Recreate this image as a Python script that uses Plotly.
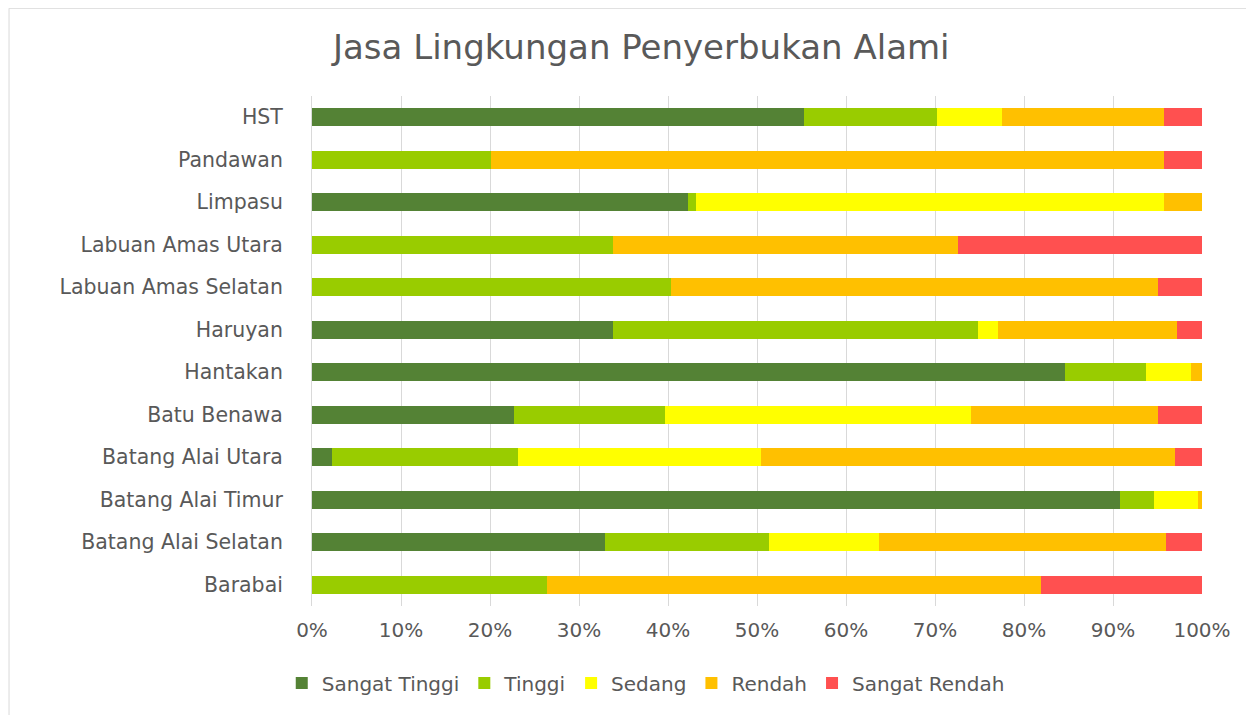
import plotly.graph_objects as go

categories = ["Barabai", "Batang Alai Selatan", "Batang Alai Timur", "Batang Alai Utara",
              "Batu Benawa", "Hantakan", "Haruyan", "Labuan Amas Selatan",
              "Labuan Amas Utara", "Limpasu", "Pandawan", "HST"]

sangat_tinggi = [0.0, 32.9, 90.8, 2.2, 22.7, 84.6, 33.8, 0.0, 0.0, 42.3, 0.0, 55.3]
tinggi        = [26.4, 18.5, 3.8, 20.9, 17.0, 9.1, 41.0, 40.3, 33.8, 0.8, 20.1, 14.9]
sedang        = [0.0, 12.3, 4.9, 27.3, 34.4, 5.1, 2.3, 0.0, 0.0, 52.6, 0.0, 7.3]
rendah        = [55.5, 32.3, 0.5, 46.6, 21.0, 1.2, 20.1, 54.8, 38.8, 4.3, 75.6, 18.2]
sangat_rendah = [18.1, 4.0, 0.0, 3.0, 4.9, 0.0, 2.8, 4.9, 27.4, 0.0, 4.3, 4.3]

tick_vals = [0, 10, 20, 30, 40, 50, 60, 70, 80, 90, 100]
tick_text = ["0%", "10%", "20%", "30%", "40%", "50%", "60%", "70%", "80%", "90%", "100%"]

series = [
    ("Sangat Tinggi", sangat_tinggi, "#548235"),
    ("Tinggi", tinggi, "#99CC00"),
    ("Sedang", sedang, "#FFFF00"),
    ("Rendah", rendah, "#FFC000"),
    ("Sangat Rendah", sangat_rendah, "#FF5050"),
]

fig = go.Figure()
for name, vals, color in series:
    fig.add_trace(go.Bar(
        y=categories, x=vals, name=name, orientation="h",
        marker=dict(color=color, line=dict(width=0)),
    ))

font_family = "DejaVu Sans, Verdana, sans-serif"
grey = "#595959"

fig.update_layout(
    barmode="stack",
    barnorm="percent",
    bargap=0.57,
    width=1254, height=715,
    margin=dict(l=304, r=60, t=88, b=117),
    paper_bgcolor="white", plot_bgcolor="white",
    title=dict(text="Jasa Lingkungan Penyerbukan Alami",
               font=dict(family=font_family, size=34, color=grey),
               x=0.505, xanchor="center", y=0.945, yanchor="middle"),
    font=dict(family=font_family, color=grey, size=18),
    legend=dict(orientation="h", x=0.375, xanchor="center", y=-0.151, yanchor="middle",
                font=dict(size=20, color=grey), traceorder="normal",
                itemwidth=30),
    xaxis=dict(range=[0, 100], tickvals=tick_vals, ticktext=tick_text,
               showgrid=True, gridcolor="#D9D9D9", gridwidth=1, zeroline=False,
               showline=False, tickfont=dict(size=20, color=grey), ticks="",
               ticklabelstandoff=10),
    yaxis=dict(showgrid=False, showline=True, linecolor="#D9D9D9", linewidth=1,
               tickfont=dict(size=20.5, color=grey), ticks="", ticklabelstandoff=24,
               categoryorder="array", categoryarray=categories),
    shapes=[dict(type="rect", xref="paper", yref="paper",
                 x0=-0.3404, x1=1.1, y0=-0.3, y1=1.172,
                 line=dict(color="#D9D9D9", width=1), fillcolor="rgba(0,0,0,0)", layer="below")],
)

fig.write_html("out.html")
